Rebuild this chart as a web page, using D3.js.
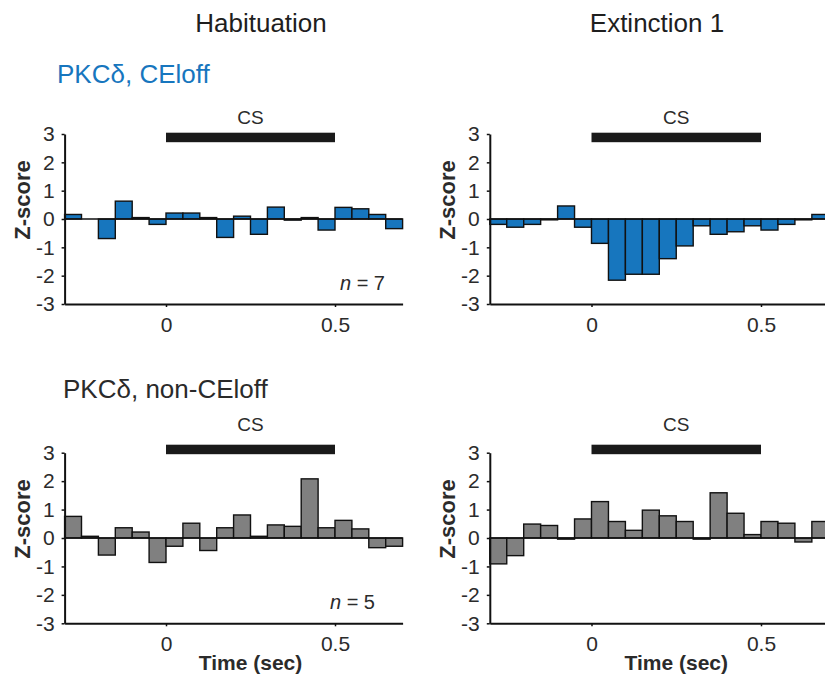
<!DOCTYPE html>
<html>
<head>
<meta charset="utf-8">
<script src="https://cdn.jsdelivr.net/npm/d3@7"></script>
<style>
  html, body { margin: 0; padding: 0; background: #fff; }
  svg { display: block; font-family: Arial, "Liberation Sans", sans-serif; }
</style>
</head>
<body>
<svg id="chart" width="825" height="679"></svg>
<script>
// ---- Data ----
const binStarts = [-0.3, -0.25, -0.2, -0.15, -0.1, -0.05, 0, 0.05, 0.1, 0.15,
                   0.2, 0.25, 0.3, 0.35, 0.4, 0.45, 0.5, 0.55, 0.6, 0.65];
const binWidth = 0.05;
const yTicks = [-3, -2, -1, 0, 1, 2, 3];
const xTicks = [0, 0.5];
const columnTitles = ["Habituation", "Extinction 1"];
const rowTitles = ["PKCδ, CEloff", "PKCδ, non-CEloff"];
const nLabels = ["7", "5"];

const ceoffHabituation = [0.16, 0, -0.69, 0.63, 0.05, -0.19, 0.21, 0.21, 0.05, -0.65,
                          0.1, -0.54, 0.42, -0.04, 0.05, -0.39, 0.41, 0.36, 0.16, -0.34];
const ceoffExtinction = [-0.19, -0.29, -0.19, -0.03, 0.46, -0.29, -0.86, -2.16, -1.95, -1.95,
                         -1.4, -0.95, -0.24, -0.54, -0.45, -0.24, -0.39, -0.19, -0.03, 0.16];
const nonHabituation = [0.76, 0.06, -0.6, 0.36, 0.21, -0.86, -0.29, 0.52, -0.44, 0.36,
                        0.81, 0.06, 0.46, 0.41, 2.08, 0.36, 0.62, 0.32, -0.34, -0.29];
const nonExtinction = [-0.91, -0.62, 0.49, 0.44, -0.04, 0.67, 1.28, 0.58, 0.27, 0.98,
                       0.78, 0.58, -0.04, 1.59, 0.87, 0.12, 0.58, 0.52, -0.14, 0.58];

const csStart = 0, csEnd = 0.5;

// ---- Layout ----
const svg = d3.select("#chart");
const BLUE = "#1776be", GRAY = "#808080", TXT = "#2b2b2b";
const leftX = { x0: 166, pps: 338 };
const rightX = { x0: 591.5, pps: 339 };
const topY = { top: 134, bottom: 304, csTop: 132.7, csLabelY: 124 };
const botY = { top: 452.7, bottom: 623.3, csTop: 444.7, csLabelY: 431 };

const panels = [
  { data: ceoffHabituation, fill: BLUE, xl: leftX, yl: topY, n: nLabels[0], nPos: [385, 290], time: false },
  { data: ceoffExtinction,  fill: BLUE, xl: rightX, yl: topY, n: null, time: false },
  { data: nonHabituation,   fill: GRAY, xl: leftX, yl: botY, n: nLabels[1], nPos: [375, 609], time: true },
  { data: nonExtinction,    fill: GRAY, xl: rightX, yl: botY, n: null, time: true }
];

panels.forEach(p => {
  const x = d3.scaleLinear().domain([-0.3, 0.7])
    .range([p.xl.x0 - 0.3 * p.xl.pps, p.xl.x0 + 0.7 * p.xl.pps]);
  const y = d3.scaleLinear().domain([-3, 3]).range([p.yl.bottom, p.yl.top]);
  const g = svg.append("g");

  // bars
  g.selectAll("rect.bar").data(binStarts.map((t, i) => ({ t, v: p.data[i] })))
    .enter().append("rect").attr("class", "bar")
    .attr("x", d => x(d.t))
    .attr("width", d => x(d.t + binWidth) - x(d.t))
    .attr("y", d => y(Math.max(0, d.v)))
    .attr("height", d => Math.abs(y(d.v) - y(0)))
    .attr("fill", p.fill)
    .attr("stroke", "#111")
    .attr("stroke-width", 1.4);

  // zero line
  g.append("line")
    .attr("x1", x(-0.3)).attr("x2", x(0.7))
    .attr("y1", y(0)).attr("y2", y(0))
    .attr("stroke", "#111").attr("stroke-width", 1.4);

  // y axis
  const ya = g.append("g").attr("transform", `translate(${x(-0.3)},0)`)
    .call(d3.axisLeft(y).tickValues(yTicks).tickSize(3).tickSizeOuter(0).tickPadding(7)
      .tickFormat(d => String(d)));
  ya.select(".domain").attr("stroke", "#111").attr("stroke-width", 2);
  ya.selectAll(".tick line").attr("stroke", "#111").attr("stroke-width", 1.5);
  ya.selectAll(".tick text").attr("font-size", 21).attr("fill", TXT)
    .attr("font-family", "Arial, 'Liberation Sans', sans-serif");

  // x axis
  const xa = g.append("g").attr("transform", `translate(0,${y(-3)})`)
    .call(d3.axisBottom(x).tickValues(xTicks).tickSize(3).tickSizeOuter(0).tickPadding(10)
      .tickFormat(d => String(d)));
  xa.select(".domain").attr("stroke", "#111").attr("stroke-width", 2);
  xa.selectAll(".tick line").attr("stroke", "#111").attr("stroke-width", 1.5);
  xa.selectAll(".tick text").attr("font-size", 21).attr("fill", TXT)
    .attr("font-family", "Arial, 'Liberation Sans', sans-serif");

  // y label
  const yMid = y(0) - 19;
  g.append("text")
    .attr("transform", `translate(${x(-0.3) - 35},${yMid}) rotate(-90)`)
    .attr("text-anchor", "middle")
    .attr("font-size", 22).attr("font-weight", "bold").attr("fill", TXT)
    .text("Z-score");

  // CS bar
  g.append("rect")
    .attr("x", x(csStart)).attr("width", x(csEnd) - x(csStart))
    .attr("y", p.yl.csTop).attr("height", 9.5)
    .attr("fill", "#1a1a1a");
  g.append("text")
    .attr("x", x((csStart + csEnd) / 2)).attr("y", p.yl.csLabelY)
    .attr("text-anchor", "middle").attr("font-size", 19).attr("fill", TXT)
    .text("CS");

  if (p.n) {
    const t = g.append("text").attr("x", p.nPos[0]).attr("y", p.nPos[1])
      .attr("text-anchor", "end").attr("font-size", 20).attr("fill", TXT);
    t.append("tspan").attr("font-style", "italic").text("n");
    t.append("tspan").text(" = " + p.n);
  }

  if (p.time) {
    g.append("text")
      .attr("x", x(0.25)).attr("y", 670)
      .attr("text-anchor", "middle").attr("font-size", 21).attr("font-weight", "bold")
      .attr("fill", TXT).text("Time (sec)");
  }
});

// column titles
svg.append("text").attr("x", 261).attr("y", 32).attr("text-anchor", "middle")
  .attr("font-size", 26).attr("fill", "#1e1e1e").text(columnTitles[0]);
svg.append("text").attr("x", 657).attr("y", 32).attr("text-anchor", "middle")
  .attr("font-size", 26).attr("fill", "#1e1e1e").text(columnTitles[1]);

// row titles
svg.append("text").attr("x", 57).attr("y", 83)
  .attr("font-size", 26).attr("fill", BLUE).text(rowTitles[0]);
svg.append("text").attr("x", 63).attr("y", 398)
  .attr("font-size", 26).attr("fill", "#2a2a2a").text(rowTitles[1]);
</script>
</body>
</html>
